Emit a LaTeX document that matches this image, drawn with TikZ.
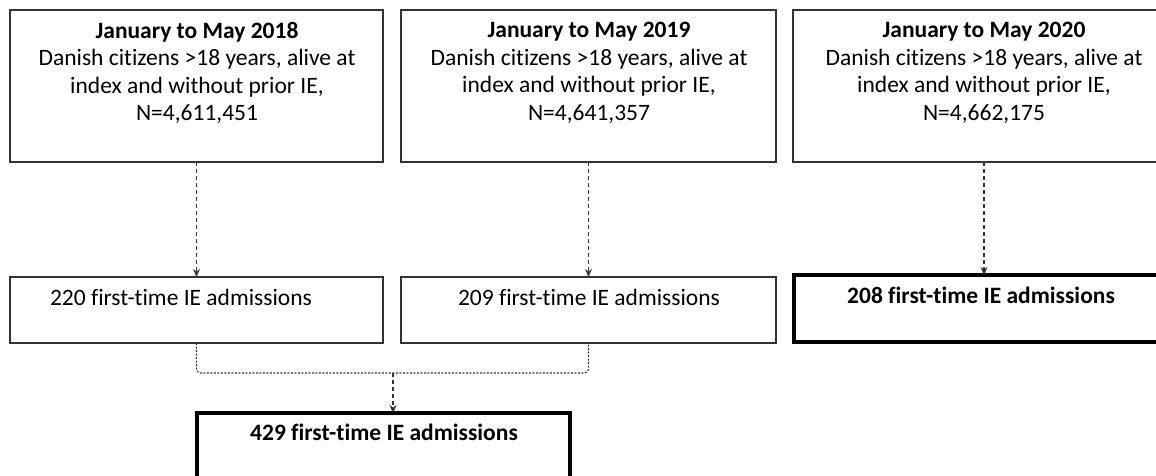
\documentclass[tikz,border=0pt]{standalone}
\usepackage{fontspec}
\setmainfont[Ligatures=NoCommon]{Carlito}
\usetikzlibrary{arrows.meta}
\definecolor{linegray}{HTML}{333333}
\tikzset{
  thinbox/.style={draw=linegray, line width=1.5pt, inner sep=0pt, outer sep=0pt, anchor=north west},
  thickbox/.style={draw=black, line width=3.5pt, inner sep=0pt, outer sep=0pt, anchor=north west},
  txt/.style={inner sep=0pt, align=center, font=\fontsize{23.5}{27.5}\selectfont, text=black},
  dasharrow/.style={draw=linegray, line width=1.4pt, dash pattern=on 4pt off 3pt, -{Stealth[length=8pt,width=7pt]}},
  dotline/.style={draw=linegray, line width=1.1pt, dash pattern=on 2pt off 1.5pt, rounded corners=4pt},
}
\begin{document}
\begin{tikzpicture}[x=1pt,y=-1pt]
\useasboundingbox (0,0) rectangle (1156,476);
\clip (0,0) rectangle (1156,476);
% top boxes
\node[thinbox, minimum width=373pt, minimum height=152pt] (b1) at (10,10) {};
\node[thinbox, minimum width=375pt, minimum height=152pt] (b2) at (401,10) {};
\node[thinbox, minimum width=382pt, minimum height=152pt] (b3) at (793,10) {};
\node[txt, anchor=north] (t1) at (197,22) {\textbf{January to May 2018}\\Danish citizens >18 years, alive at\\index and without prior IE,\\N=4,611,451};
\node[txt, anchor=north] (t2) at (589,22) {\textbf{January to May 2019}\\Danish citizens >18 years, alive at\\index and without prior IE,\\N=4,641,357};
\node[txt, anchor=north] (t3) at (984,22) {\textbf{January to May 2020}\\Danish citizens >18 years, alive at\\index and without prior IE,\\N=4,662,175};
% middle boxes
\node[thinbox, minimum width=373pt, minimum height=66pt] (b4) at (10,277) {};
\node[thinbox, minimum width=375pt, minimum height=66pt] (b5) at (401,277) {};
\node[thickbox, minimum width=380pt, minimum height=67pt] (b6) at (794,275) {};
\node[txt, anchor=base] (t4) at (181,305) {220 first-time IE admissions};
\node[txt, anchor=base] (t5) at (589,305) {209 first-time IE admissions};
\node[txt, anchor=base] (t6) at (981,303) {\textbf{208 first-time IE admissions}};
% bottom box
\node[thickbox, minimum width=373pt, minimum height=67pt] (b7) at (197,413) {};
\node[txt, anchor=base] (t7) at (384,440) {\textbf{429 first-time IE admissions}};
% connectors
\draw[dasharrow] (b1.south) -- (b4.north);
\draw[dasharrow] (b2.south) -- (b5.north);
\draw[dasharrow] (b3.south) -- (b6.north);
\coordinate (m) at (393,373);
\draw[dotline] (b4.south) |- (m) -| (b5.south);
\draw[dasharrow] (m) -- (m |- b7.north);
\end{tikzpicture}
\end{document}
